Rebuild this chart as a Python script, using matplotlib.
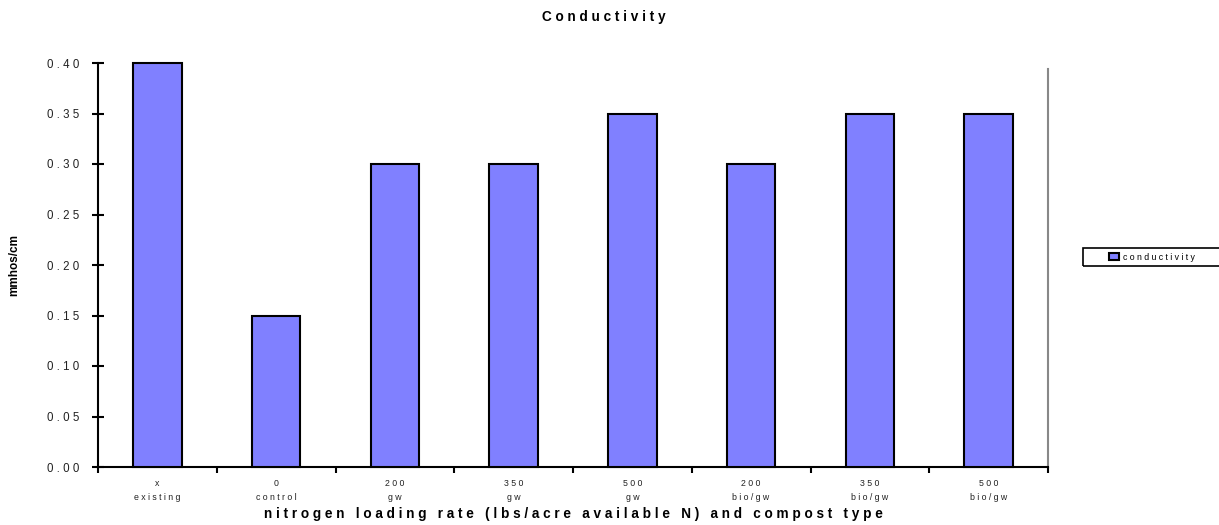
import matplotlib
matplotlib.use("Agg")
import matplotlib.pyplot as plt
from matplotlib.patches import Rectangle, Patch
import numpy as np

plt.rcParams['font.family'] = ['Liberation Sans', 'DejaVu Sans']

# Conductivity per treatment
rates = ["x", "0", "200", "350", "500", "200", "350", "500"]
compost = ["existing", "control", "gw", "gw", "gw", "bio/gw", "bio/gw", "bio/gw"]
conductivity = [0.40, 0.15, 0.30, 0.30, 0.35, 0.30, 0.35, 0.35]
yticks = [0.00, 0.05, 0.10, 0.15, 0.20, 0.25, 0.30, 0.35, 0.40]


def spaced(s):
    """Spread characters apart for a wide-tracked look."""
    return " ".join(s)


W, H = 1219, 525
fig = plt.figure(figsize=(W / 100, H / 100), dpi=100)
left, right, top, bottom = 98, 1048, 63, 467
ax = fig.add_axes([left / W, 1 - bottom / H, (right - left) / W, (bottom - top) / H])

x = np.arange(len(conductivity))
ax.bar(x, conductivity, width=0.41, color="#8080FF", edgecolor="black",
       linewidth=1.5, clip_on=False, zorder=3)

ax.set_xlim(-0.5, len(conductivity) - 0.5)
ax.set_ylim(0, 0.40)

for side in ("top", "right"):
    ax.spines[side].set_visible(False)
ax.spines["left"].set_linewidth(1.5)
ax.spines["bottom"].set_linewidth(1.5)
# thin gray frame line on the right of the plot area
ax.axvline(len(conductivity) - 0.5, ymin=0, ymax=0.985, color="#888888",
           linewidth=1.5, clip_on=False)

ax.set_yticks(yticks)
ax.set_yticklabels([spaced(f"{v:.2f}") for v in yticks], fontsize=8.3, color="#222222")
ax.tick_params(axis="y", direction="inout", length=9, width=1.5, pad=9)

ax.set_xticks(x)
ax.set_xticklabels([spaced(r) + "\n" + spaced(c) for r, c in zip(rates, compost)],
                   fontsize=6.3, color="#222222", linespacing=1.6)
ax.tick_params(axis="x", which="major", length=0, pad=9)
ax.set_xticks(np.arange(-0.5, len(conductivity)), minor=True)
ax.tick_params(axis="x", which="minor", direction="out", length=4, width=1.5)

ax.set_xlabel("   ".join(spaced(w) for w in
              "nitrogen loading rate (lbs/acre available N) and compost type".split()),
              fontsize=9.8, fontweight="bold", labelpad=4)
fig.text(14 / W, 1 - 265 / H, "mmhos/cm", rotation=90, fontsize=8.5,
         fontweight="bold", ha="center", va="center")
fig.text(604 / W, 1 - 17 / H, spaced("Conductivity"), fontsize=9.8,
         fontweight="bold", ha="center", va="center")

# legend box
fig.patches.append(Rectangle((1083 / W, 1 - 266 / H), (W + 5 - 1083) / W, 18 / H,
                             transform=fig.transFigure, fill=False,
                             edgecolor="black", linewidth=1.2, clip_on=False))
handle = Patch(facecolor="#8080FF", edgecolor="black", linewidth=1.5,
               label=spaced("conductivity"))
fig.legend(handles=[handle], loc="center left",
           bbox_to_anchor=(1109 / W, 1 - 257 / H), frameon=False,
           fontsize=6.3, handlelength=1.1, handleheight=0.7, handletextpad=0.5,
           borderpad=0, borderaxespad=0)

fig.savefig("out.png", dpi=100)
